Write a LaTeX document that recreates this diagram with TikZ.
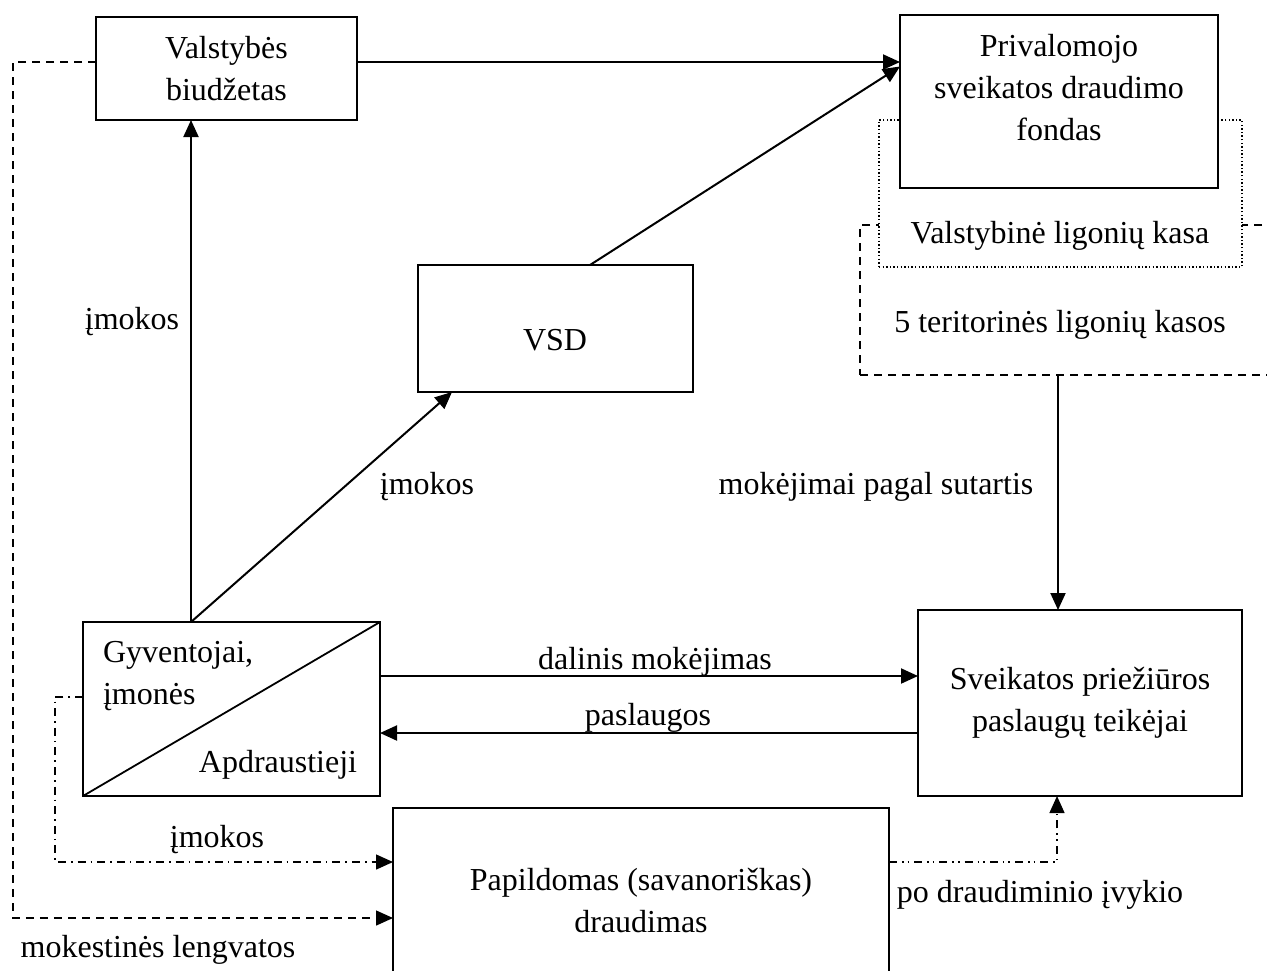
\documentclass[tikz,border=0pt]{standalone}
\usepackage{fontspec}
\setmainfont{Liberation Serif}
\usetikzlibrary{arrows.meta,calc}
\begin{document}
\begin{tikzpicture}[x=0.5pt,y=-0.5pt,
  every node/.style={font=\fontsize{16}{21}\selectfont, inner sep=0pt, outer sep=0pt},
  box/.style={draw, line width=0.9pt, fill=white},
  dashbox/.style={draw, line width=0.7pt, fill=white, dash pattern=on 4pt off 3pt},
  dotbox/.style={draw, line width=0.7pt, fill=white, dash pattern=on 0.7pt off 1.1pt},
  tip/.style={-{Triangle[length=8.5pt,width=7.5pt]}},
  arr/.style={line width=1pt, tip},
  dasharr/.style={line width=0.7pt, dash pattern=on 4pt off 3pt, tip},
  dotdasharr/.style={line width=0.7pt, dash pattern=on 4pt off 2.5pt on 0.8pt off 2.5pt, tip},
  ddotarr/.style={line width=0.7pt, dash pattern=on 4pt off 2.5pt on 0.8pt off 2pt on 0.8pt off 2.5pt, tip},
]
\useasboundingbox[fill=white] (0,0) rectangle (1267,970);

% nested funds
\node[dashbox, minimum width=210pt, minimum height=75pt] (ter) at (1070,300) {};
\node[dotbox, minimum width=181.5pt, minimum height=73.5pt] (vlk) at (1060.5,193.5) {};
\node[box, minimum width=159pt, minimum height=86.5pt] (psdf) at (1059,101.5) {};
\node[align=center] (psdft) at (1059,88) {Privalomojo\\sveikatos draudimo\\fondas};
\node (vlkt) at (1060,236) {Valstybinė ligonių kasa};
\node (tert) at (1060,325) {5 teritorinės ligonių kasos};

% other boxes
\node[box, align=center, minimum width=130.5pt, minimum height=51.5pt] (bud) at (226.5,68.5) {Valstybės\\biudžetas};
\node[box, minimum width=137.5pt, minimum height=63.5pt] (vsd) at (555.5,328.5) {};
\node (vsdt) at (555,340) {VSD};
\node[box, minimum width=148.5pt, minimum height=87pt] (gyv) at (231.5,709) {};
\draw[line width=0.9pt] (gyv.south west) -- (gyv.north east);
\node[align=left, anchor=west] (gyvt) at (103,676) {Gyventojai,\\įmonės};
\node (apd) at (278,765) {Apdraustieji};
\node[box, align=center, minimum width=162pt, minimum height=93pt] (sv) at (1080,703) {Sveikatos priežiūros\\paslaugų teikėjai};
\node[box, minimum width=248pt, minimum height=85pt] (pap) at (641,893) {};
\node[align=center] (papt) at (641,901) {Papildomas (savanoriškas)\\draudimas};

% solid arrows
\coordinate (b1) at ([yshift=3.25pt]bud.east);
\draw[arr] (b1) -- (b1 -| psdf.west);
\draw[arr] ([xshift=17.25pt]vsd.north) -- ([yshift=17.5pt]psdf.west);
\coordinate (g1) at ([xshift=-20.25pt]gyv.north);
\draw[arr] (g1) -- (g1 |- bud.south);
\draw[arr] (g1) -- ([xshift=17pt]vsd.south west);
\coordinate (d1) at ([yshift=16.5pt]gyv.east);
\draw[arr] (d1) -- (d1 -| sv.west);
\coordinate (p1) at ([yshift=-15pt]sv.west);
\draw[arr] (p1) -- (p1 -| gyv.east);
\coordinate (t1) at ([xshift=-6pt]ter.south);
\draw[arr] (t1) -- (t1 |- sv.north);

% non-solid arrows
\coordinate (e1) at ([yshift=6pt]gyv.west);
\coordinate (c1) at (55,862);
\draw[dotdasharr] (e1) -| (c1) -- (c1 -| pap.west);
\coordinate (e2) at ([yshift=3.25pt]bud.west);
\coordinate (c2) at (13,918);
\draw[dasharr] (e2) -| (c2) -- (c2 -| pap.west);
\coordinate (e3) at ([yshift=15.5pt]pap.east);
\coordinate (c3) at ([xshift=-11.5pt]sv.south);
\draw[ddotarr] (e3) -| (c3);

% labels
\node (l1) at (132,322) {įmokos};
\node (l2) at (427,487) {įmokos};
\node (l3) at (876,487) {mokėjimai pagal sutartis};
\node (l4) at (655,662) {dalinis mokėjimas};
\node (l5) at (648,718) {paslaugos};
\node (l6) at (217,840) {įmokos};
\node (l7) at (1040,895) {po draudiminio įvykio};
\node (l8) at (158,950) {mokestinės lengvatos};
\end{tikzpicture}
\end{document}
